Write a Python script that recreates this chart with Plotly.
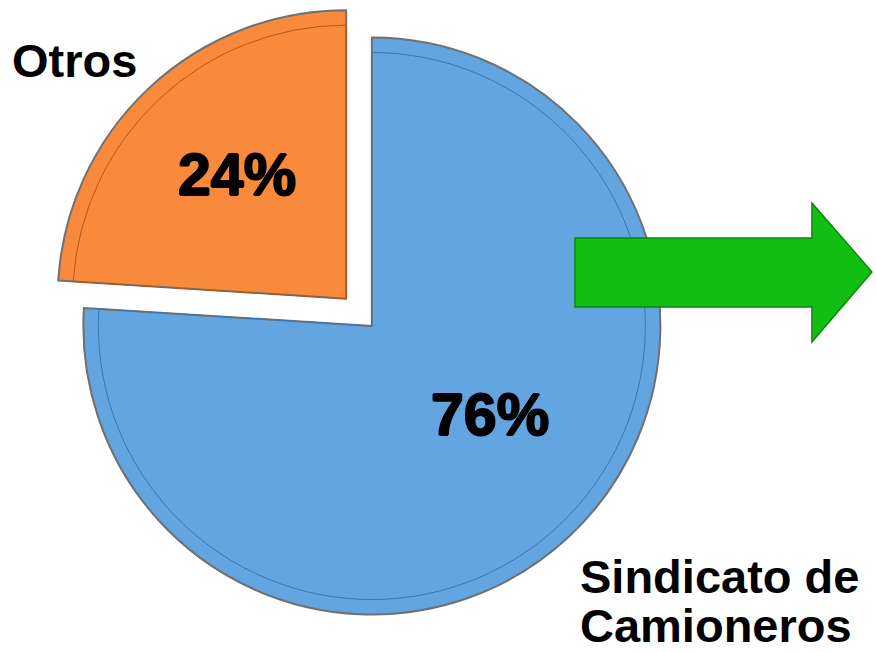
import plotly.graph_objects as go

labels = ["Sindicato de Camioneros", "Otros"]
values = [76, 24]
colors = ["#62A5E1", "#F98A3C"]
pulls = [0, 0.13]

W, H = 876, 652

total = sum(values)
pct_text = [f"{round(100 * v / total)}%" for v in values]

fig = go.Figure()
fig.add_trace(go.Pie(
    labels=labels,
    values=values,
    sort=False,
    direction="clockwise",
    rotation=0,
    pull=pulls,
    marker=dict(colors=colors, line=dict(color="#707070", width=2)),
    textinfo="none",
    domain=dict(x=[0.0, 0.849], y=[0.0, 1.0]),
    showlegend=False,
    hoverinfo="label+percent",
))

# inner bevel outline (same data, slightly smaller radius, same pull offset)
r_out = H / (2 + 2 * pulls[1])
r_in = r_out - 15
pull_in = [p * r_out / r_in for p in pulls]
sy_in = r_in * 2 * (1 + max(pull_in))
pad = (H - sy_in) / 2 / H
fig.add_trace(go.Pie(
    labels=labels,
    values=values,
    sort=False,
    direction="clockwise",
    rotation=0,
    pull=pull_in,
    marker=dict(colors=["rgba(0,0,0,0)", "rgba(0,0,0,0)"],
                line=dict(color=["#3A76B0", "#B0581A"], width=1)),
    textinfo="none",
    domain=dict(x=[0.4245 - sy_in / 2 / W, 0.4245 + sy_in / 2 / W], y=[pad, 1 - pad]),
    showlegend=False,
    hoverinfo="skip",
))

def px_to_paper(x, y):
    return x / W, 1 - y / H

# green arrow (decoration)
pts = [(575, 238), (812, 238), (812, 203), (872, 272), (812, 342), (812, 307), (575, 307)]
path = "M " + " L ".join(f"{px_to_paper(x, y)[0]:.4f},{px_to_paper(x, y)[1]:.4f}" for x, y in pts) + " Z"
fig.add_shape(type="path", path=path, xref="paper", yref="paper",
              fillcolor="#12BE12", line=dict(color="#0A880A", width=1.5), layer="above")

heavy = "1px 0px 0px black, -1px 0px 0px black, 0px 1px 0px black, 0px -1px 0px black"
pct_font = dict(family="Liberation Sans, Arial, sans-serif", size=59, color="black",
                weight="bold", shadow=heavy)
pct_pos = [(490, 415), (237, 175)]
for t, (x, y) in zip(pct_text, pct_pos):
    fig.add_annotation(text=t, x=x / W, y=1 - y / H, xref="paper", yref="paper",
                       xanchor="center", yanchor="middle", showarrow=False, font=pct_font)

lab_font = dict(family="Liberation Sans, Arial, sans-serif", size=47, color="black", weight="bold")
fig.add_annotation(text=labels[1], x=10 / W, y=1 - 60 / H,
                   xref="paper", yref="paper", xanchor="left", yanchor="middle",
                   showarrow=False, font=lab_font)
words = labels[0].split(" ")
fig.add_annotation(text=" ".join(words[:2]), x=578 / W, y=1 - 576 / H, height=44,
                   xref="paper", yref="paper", xanchor="left", yanchor="middle",
                   showarrow=False, font=lab_font)
fig.add_annotation(text=" ".join(words[2:]), x=578 / W, y=1 - 625 / H, height=44,
                   xref="paper", yref="paper", xanchor="left", yanchor="middle",
                   showarrow=False, font=lab_font)

fig.update_layout(
    width=W, height=H,
    margin=dict(l=0, r=0, t=0, b=0),
    paper_bgcolor="white", plot_bgcolor="white",
)

fig.write_html("out.html", post_script="document.body.style.margin='0px';",
               config={"displayModeBar": False})
